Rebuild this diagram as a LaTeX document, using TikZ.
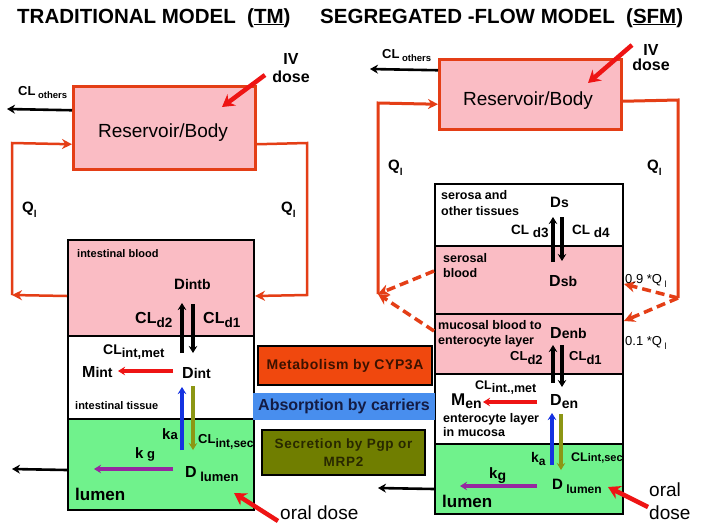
\documentclass[tikz,border=0pt]{standalone}
\usepackage{fontspec}
\setmainfont{Liberation Sans}
\usetikzlibrary{arrows.meta}
\definecolor{pinkf}{RGB}{250,188,196}
\definecolor{qred}{RGB}{228,62,22}
\definecolor{greenf}{RGB}{112,242,140}
\definecolor{metf}{RGB}{240,72,14}
\definecolor{absf}{RGB}{72,142,238}
\definecolor{secf}{RGB}{112,126,0}
\definecolor{arrred}{RGB}{238,20,20}
\definecolor{arrblue}{RGB}{20,50,225}
\definecolor{arrolive}{RGB}{140,150,20}
\definecolor{arrpurp}{RGB}{150,40,160}
\definecolor{mettext}{RGB}{60,18,0}
\definecolor{abstext}{RGB}{20,28,68}
\definecolor{sectext}{RGB}{40,40,0}
\newcommand\fsz[1]{\fontsize{#1}{#1}\selectfont}
\newcommand\lbl[5]{{\fsz{#2}#1}{\fsz{#4}\raisebox{-#5pt}{#3}}}
\begin{document}
\begin{tikzpicture}[x=1pt,y=-1pt,
  res/.style={draw=qred, line width=2.5pt, fill=pinkf, minimum width=182pt, inner sep=0, anchor=north west},
  comp/.style={draw=black, line width=2pt, inner sep=0, anchor=north west},
  t/.style={inner sep=0, font=\bfseries},
  tr/.style={inner sep=0},
  qline/.style={draw=qred, line width=2.5pt, -{Stealth[length=10pt,width=10pt]}},
  qplain/.style={draw=qred, line width=3pt},
  dashq/.style={draw=qred, line width=3.5pt, dash pattern=on 9pt off 5pt, -{Stealth[length=11pt,width=11pt]}},
  flux/.style={line width=3.2pt, -{Stealth[length=7pt,width=8.5pt]}},
  blkarrow/.style={draw=black, line width=2.6pt, -{Stealth[length=8pt,width=9pt]}},
  bigred/.style={draw=arrred, line width=4.5pt, -{Stealth[length=12pt,width=14pt]}}
]
\useasboundingbox (0,0) rectangle (704,523);
\fill[white] (0,0) rectangle (704,523);

% titles
\node[t, anchor=base west, font=\bfseries\fsz{20.5}] (tTM) at (17,23) {TRADITIONAL MODEL\ \ (\underline{TM})};
\node[t, anchor=base west, font=\bfseries\fsz{20.5}] (tSFM) at (320,23) {SEGREGATED -FLOW MODEL\ \ (\underline{SFM})};

% ---------- left model boxes
\node[res, minimum height=83pt] (resL) at (72,85) {};
\node[comp, fill=greenf, minimum width=186pt, minimum height=91pt] (luL) at (67,418) {};
\node[comp, fill=white, minimum width=186pt, minimum height=83pt] (itL) at (67,335) {};
\node[comp, fill=pinkf, minimum width=186pt, minimum height=96pt] (ibL) at (67,239) {};

% ---------- right model boxes
\node[res, minimum height=70pt] (resR) at (438,58) {};
\node[comp, fill=greenf, minimum width=188pt, minimum height=70pt] (luR) at (434,443) {};
\node[comp, fill=white, minimum width=188pt, minimum height=70pt] (enR) at (434,373) {};
\node[comp, fill=pinkf, minimum width=188pt, minimum height=60pt] (mbR) at (434,313) {};
\node[comp, fill=pinkf, minimum width=188pt, minimum height=68pt] (sbR) at (434,245) {};
\node[comp, fill=white, minimum width=188pt, minimum height=62pt] (seR) at (434,183) {};

% ---------- legend
\node[draw=black, line width=2pt, fill=metf, minimum width=174pt, minimum height=39pt, inner sep=0,
      font=\bfseries\fsz{14}\addfontfeature{LetterSpace=4}, text=mettext] (met) at (345,365.5) {Metabolism by CYP3A};
\node[fill=absf, minimum width=182pt, minimum height=27pt, inner sep=0,
      font=\bfseries\fsz{16}, text=abstext] (abs) at (344,406.5) {Absorption by carriers};
\node[draw=black, line width=2pt, fill=secf, minimum width=163pt, minimum height=45pt, inner sep=0, align=center,
      font=\bfseries\fontsize{13.5}{18}\selectfont\addfontfeature{LetterSpace=5}, text=sectext] (sec) at (343.5,452.5) {Secretion by Pgp or\\MRP2};

% ---------- coordinates
\coordinate (lA) at (12,295); \coordinate (lB) at (12,143);
\coordinate (rA) at (307,143); \coordinate (rB) at (307,295);
\coordinate (clL) at (7,109);
\coordinate (RlA) at (378,294); \coordinate (RlB) at (378,103);
\coordinate (RrA) at (678,100); \coordinate (RrB) at (678,298);
\coordinate (clR) at (370,69);
\coordinate (ivLt) at (265,75); \coordinate (ivLh) at (222,107);
\coordinate (ivRt) at (632,45); \coordinate (ivRh) at (588,83);
\coordinate (orLt) at (278,521); \coordinate (orLh) at (234,493);
\coordinate (orRt) at (648,507); \coordinate (orRh) at (608,487);
\coordinate (kgL) at (94,469); \coordinate (outL) at (12,469);
\coordinate (kgR) at (460,486); \coordinate (outR) at (378,488);
% left flux ends
\coordinate (a1) at (182,353); \coordinate (a2) at (182,303);
\coordinate (a3) at (193,304); \coordinate (a4) at (193,353);
\coordinate (a5) at (173,371); \coordinate (a6) at (118,371);
\coordinate (a7) at (182,450); \coordinate (a8) at (182,387);
\coordinate (a9) at (193,386); \coordinate (a10) at (193,450);
\coordinate (a11) at (173,469);
% right flux ends
\coordinate (b1) at (553,262); \coordinate (b2) at (553,217);
\coordinate (b3) at (562,217); \coordinate (b4) at (562,261);
\coordinate (b5) at (553,383); \coordinate (b6) at (553,345);
\coordinate (b7) at (562,345); \coordinate (b8) at (562,387);
\coordinate (b9) at (537,402); \coordinate (b10) at (483,402);
\coordinate (b11) at (552,465); \coordinate (b12) at (552,413);
\coordinate (b13) at (561,414); \coordinate (b14) at (561,470);
\coordinate (b15) at (537,486);

% ---------- left loops
\draw[qline] ([yshift=-8pt]ibL.west) -- (lA);
\draw[qline] (lA) -- (lB) -- ([yshift=-16.5pt]resL.west);
\draw[qline] ([yshift=-16.5pt]resL.east) -- (rA) -- (rB) -- ([yshift=-8pt]ibL.east);
\draw[blkarrow] ([yshift=17.5pt]resL.west) -- (clL);

% ---------- right loops
\draw[qline, line width=3pt] (RlA) -- (RlB) -- ([yshift=-10pt]resR.west);
\draw[dashq] ([yshift=9pt]sbR.west) -- (RlA);
\draw[dashq] ([yshift=13pt]mbR.west) -- (RlA);
\draw[qplain] ([yshift=-7pt]resR.east) -- (RrA) -- (RrB);
\draw[dashq] (RrB) -- ([yshift=-4pt]sbR.east);
\draw[dashq] (RrB) -- ([yshift=23pt]mbR.east);
\draw[blkarrow] ([yshift=24pt]resR.west) -- (clR);

% ---------- dose arrows
\draw[bigred] (ivLt) -- (ivLh);
\draw[bigred] (ivRt) -- (ivRh);
\draw[bigred] (orLt) -- (orLh);
\draw[bigred] (orRt) -- (orRh);

% ---------- left fluxes
\draw[flux] (a1) -- (a2);
\draw[flux] (a3) -- (a4);
\draw[flux, draw=arrred] (a5) -- (a6);
\draw[flux, draw=arrblue] (a7) -- (a8);
\draw[flux, draw=arrolive] (a9) -- (a10);
\draw[flux, draw=arrpurp] (a11) -- (kgL);
\draw[blkarrow] ([yshift=-5.5pt]luL.west) -- (outL);

% ---------- right fluxes
\draw[flux] (b1) -- (b2);
\draw[flux] (b3) -- (b4);
\draw[flux] (b5) -- (b6);
\draw[flux] (b7) -- (b8);
\draw[flux, draw=arrred] (b9) -- (b10);
\draw[flux, draw=arrblue] (b11) -- (b12);
\draw[flux, draw=arrolive] (b13) -- (b14);
\draw[flux, draw=arrpurp] (b15) -- (kgR);
\draw[blkarrow] ([yshift=-10pt]luR.west) -- (outR);

% ---------- left texts
\node[tr, font=\fsz{19}] (resLt) at (163,133) {Reservoir/Body};
\node[t, anchor=north, align=center, font=\bfseries\fontsize{16}{18}\selectfont] (ivL) at (291,53) {IV\\dose};
\node[t, anchor=base west] (clothL) at (18,95) {\lbl{CL}{13}{\ others}{9.5}{3}};
\node[t, anchor=base west] (qL1) at (22,212) {\lbl{Q}{15}{l}{10}{5}};
\node[t, anchor=base west] (qL2) at (281,212) {\lbl{Q}{15}{l}{10}{5}};
\node[t, anchor=base west, font=\bfseries\fsz{11}] (ibLt) at (77,257) {intestinal blood};
\node[t, anchor=base west] (Dintb) at (174,289) {\lbl{D}{15}{intb}{14}{0}};
\node[t, anchor=base west] (cld2L) at (135,323) {\lbl{CL}{16}{d2}{13.5}{4}};
\node[t, anchor=base west] (cld1L) at (203,323) {\lbl{CL}{16}{d1}{13.5}{4}};
\node[t, anchor=base west] (clmetL) at (103,354) {\lbl{CL}{14}{int,met}{13}{3}};
\node[t, anchor=base west] (MintL) at (82,377) {\lbl{M}{16}{int}{14}{0}};
\node[t, anchor=base west] (DintL) at (182,378) {\lbl{D}{16}{int}{14}{0}};
\node[t, anchor=base west, font=\bfseries\fsz{11}] (itLt) at (75,409) {intestinal tissue};
\node[t, anchor=base west] (kaL) at (162,439) {\lbl{k}{15}{a}{13}{0}};
\node[t, anchor=base west] (clsecL) at (198,443) {\lbl{CL}{13}{int,sec}{12}{4}};
\node[t, anchor=base west] (kgLt) at (135,458) {\lbl{k}{15}{\ g}{13}{0}};
\node[t, anchor=base west] (DlumL) at (185,477) {\lbl{D}{16}{\ lumen}{13}{4}};
\node[t, anchor=base west, font=\bfseries\fsz{17}] (lumL) at (75,500) {lumen};
\node[tr, anchor=base west, font=\fsz{19}] (oralL) at (280,519) {oral dose};

% ---------- right texts
\node[tr, font=\fsz{19}] (resRt) at (528,101) {Reservoir/Body};
\node[t, anchor=north, align=center, font=\bfseries\fontsize{16}{15}\selectfont] (ivR) at (651,44) {IV\\dose};
\node[t, anchor=base west] (clothR) at (382,58) {\lbl{CL}{13}{\ others}{9.5}{3}};
\node[t, anchor=base west] (qR1) at (388,170) {\lbl{Q}{15}{l}{10}{5}};
\node[t, anchor=base west] (qR2) at (647,170) {\lbl{Q}{15}{l}{10}{5}};
\node[t, anchor=north west, align=left, font=\bfseries\fontsize{12.5}{16}\selectfont] (seRt) at (441,190) {serosa and\\other tissues};
\node[t, anchor=base west] (Ds) at (550,207) {\lbl{D}{15}{s}{14}{0}};
\node[t, anchor=base west] (cld3) at (511,234) {\lbl{CL}{13.5}{\ d3}{13.5}{3}};
\node[t, anchor=base west] (cld4) at (572,234) {\lbl{CL}{13.5}{\ d4}{13.5}{3}};
\node[t, anchor=north west, align=left, font=\bfseries\fontsize{12.5}{15}\selectfont] (sbRt) at (443,253) {serosal\\blood};
\node[t, anchor=base west] (Dsb) at (549,286) {\lbl{D}{16}{sb}{14}{0}};
\node[t, anchor=north west, align=left, font=\bfseries\fontsize{12.5}{15}\selectfont] (mbRt) at (438,320) {mucosal blood to\\enterocyte layer};
\node[t, anchor=base west] (Denb) at (550,338) {\lbl{D}{16}{enb}{14}{0}};
\node[t, anchor=base west] (cld2R) at (510,360) {\lbl{CL}{13}{d2}{13}{4}};
\node[t, anchor=base west] (cld1R) at (569,360) {\lbl{CL}{13}{d1}{13}{4}};
\node[t, anchor=base west] (clmetR) at (475,389) {\lbl{CL}{12.5}{int.,met}{12.5}{3}};
\node[t, anchor=base west] (MenR) at (451,405) {\lbl{M}{17}{en}{14}{3}};
\node[t, anchor=base west] (DenR) at (550,405) {\lbl{D}{16}{en}{14}{3}};
\node[t, anchor=north west, align=left, font=\bfseries\fontsize{12.5}{14}\selectfont] (enRt) at (443,413) {enterocyte layer\\in mucosa};
\node[t, anchor=base west] (kaR) at (531,462) {\lbl{k}{14}{a}{12}{3}};
\node[t, anchor=base west] (clsecR) at (571,461) {\lbl{CL}{12.5}{int,sec}{11}{0}};
\node[t, anchor=base west] (kgRt) at (489,478) {\lbl{k}{15}{g}{14}{2}};
\node[t, anchor=base west] (DlumR) at (552,489) {\lbl{D}{15}{\ lumen}{12}{4}};
\node[t, anchor=base west, font=\bfseries\fsz{17}] (lumR) at (442,507) {lumen};
\node[tr, anchor=north west, align=left, font=\fontsize{19}{23}\selectfont] (oralR) at (649,483) {oral\\dose};
\node[tr, anchor=base west, font=\fsz{13}] (q09) at (625,283) {0.9 *Q\raisebox{-4pt}{\fsz{9}\ l}};
\node[tr, anchor=base west, font=\fsz{13}] (q01) at (625,345) {0.1 *Q\raisebox{-4pt}{\fsz{9}\ l}};
\end{tikzpicture}
\end{document}
